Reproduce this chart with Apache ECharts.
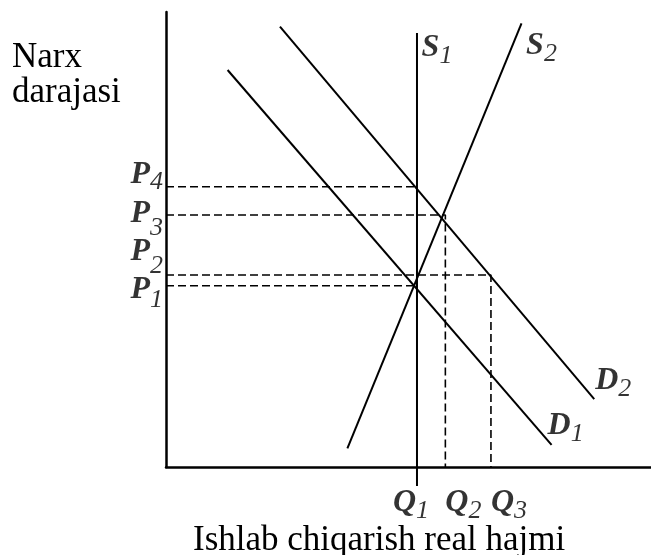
<!DOCTYPE html>
<html lang="uz">
<head>
    <meta charset="UTF-8">
    <title>Narx darajasi</title>
    <script type="text/javascript" src="https://cdn.jsdelivr.net/npm/echarts@6/dist/echarts.min.js"></script>
    <style>
        html, body { margin: 0; padding: 0; background: #fff; }
    </style>
</head>
<body>
<div id="main" style="width: 651px;height:555px;"></div>
<script>
    // curves (x = output, y = price level)
    var s1Line = [[51.75, -4.2], [51.75, 95.4]];
    var s2Line = [[37.4, 4.1], [73.3, 97.5]];
    var d1Line = [[12.7, 87.25], [79.5, 4.85]];
    var d2Line = [[23.5, 96.8], [88.3, 14.9]];

    // price levels P1..P4 and quantities Q1..Q3
    var pNames = ['P1', 'P2', 'P3', 'P4'];
    var pLevels = [39.85, 42.2, 55.4, 61.6];
    var qNames = ['Q1', 'Q2', 'Q3'];
    var qLevels = [51.75, 57.6, 67.0];
    // where each dashed price line stops
    var pLineEnds = [51.3, 67.0, 57.6, 51.75];

    var serif = "'Liberation Serif', 'Times New Roman', serif";

    function sub(name) {
        return '{m|' + name.charAt(0) + '}{s|' + name.slice(1) + '}';
    }
    // every token is 45px tall, padding moves the subscript down by `drop`
    function makeRich(drop) {
        return {
            m: {fontFamily: serif, fontSize: 32, fontWeight: 'bold', fontStyle: 'italic', color: '#000',
                lineHeight: 32, padding: [0, 0, 13, 0]},
            s: {fontFamily: serif, fontSize: 26, fontWeight: 'normal', fontStyle: 'italic', color: '#000',
                lineHeight: 26, padding: [5 + drop, 0, 14 - drop, 0]}
        };
    }
    var pDrops = [8, 12, 13, 5];
    var rich = makeRich(6);

    var solid = {color: '#000', width: 2, type: 'solid'};
    var dashed = {color: '#000', width: 1.6, type: [8, 4]};

    function lineSeries(data, style, clip) {
        return {
            type: 'line', data: data, symbol: 'none', silent: true,
            clip: clip, lineStyle: style, animation: false
        };
    }

    function labelOpts(text, position, offset, distance, r) {
        return {
            show: true, position: position, offset: offset, distance: distance,
            color: '#000', textBorderWidth: 0, formatter: text, rich: r
        };
    }

    var series = [];
    // dashed guides
    for (var i = 0; i < pLevels.length; i++) {
        var pts = [[0, pLevels[i]], [pLineEnds[i], pLevels[i]]];
        if (pNames[i] == 'P2' || pNames[i] == 'P3') {
            pts.push([pLineEnds[i], 0]);
        }
        series.push(lineSeries(pts, dashed, true));
    }
    series.push(lineSeries(d1Line, solid, true));
    series.push(lineSeries(d2Line, solid, true));
    series.push(lineSeries(s2Line, solid, true));
    series.push(lineSeries(s1Line, solid, false));

    // price labels on the y axis
    var pOffsets = [[0, 11], [0, -16.5], [0, 5], [0, -5]];
    series.push({
        type: 'scatter', symbolSize: 0, silent: true, clip: false, animation: false,
        data: pLevels.map(function (v, k) {
            return {value: [0, v], label: labelOpts(sub(pNames[k]), 'left', pOffsets[k], 3, makeRich(pDrops[k]))};
        })
    });
    // quantity labels under the x axis
    var qOffsets = [[-6, 8.5], [18, 8.5], [18, 8.5]];
    series.push({
        type: 'scatter', symbolSize: 0, silent: true, clip: false, animation: false,
        data: qLevels.map(function (v, k) {
            return {value: [v, 0], label: labelOpts(sub(qNames[k]), 'bottom', qOffsets[k], 18, rich)};
        })
    });
    // curve names
    var curveNames = ['S1', 'S2', 'D1', 'D2'];
    var curveEnds = [s1Line[1], s2Line[1], d1Line[1], d2Line[1]];
    var curveOffsets = [[20, 21.5], [20, 29], [14, -12.5], [19, -11.5]];
    series.push({
        type: 'scatter', symbolSize: 0, silent: true, clip: false, animation: false,
        data: curveEnds.map(function (v, k) {
            return {value: v, label: labelOpts(sub(curveNames[k]), 'inside', curveOffsets[k], 0, rich)};
        })
    });

    var myChart = echarts.init(document.getElementById('main'));
    var axisStyle = {
        min: 0, max: 100, type: 'value',
        axisLine: {show: true, onZero: false, lineStyle: {color: '#000', width: 2.5}},
        axisTick: {show: false},
        axisLabel: {show: false},
        splitLine: {show: false}
    };
    var option = {
        backgroundColor: '#fff',
        animation: false,
        grid: {left: 166, right: 0, top: 12, bottom: 88},
        xAxis: axisStyle,
        yAxis: axisStyle,
        graphic: [
            {
                type: 'text', left: 12, top: 40,
                style: {text: 'Narx\ndarajasi', font: "35px " + serif, fill: '#000', lineHeight: 35}
            },
            {
                type: 'text', left: 193, top: 523,
                style: {text: 'Ishlab chiqarish real hajmi', font: "35px " + serif, fill: '#000'}
            }
        ],
        series: series
    };
    myChart.setOption(option);
</script>
</body>
</html>
